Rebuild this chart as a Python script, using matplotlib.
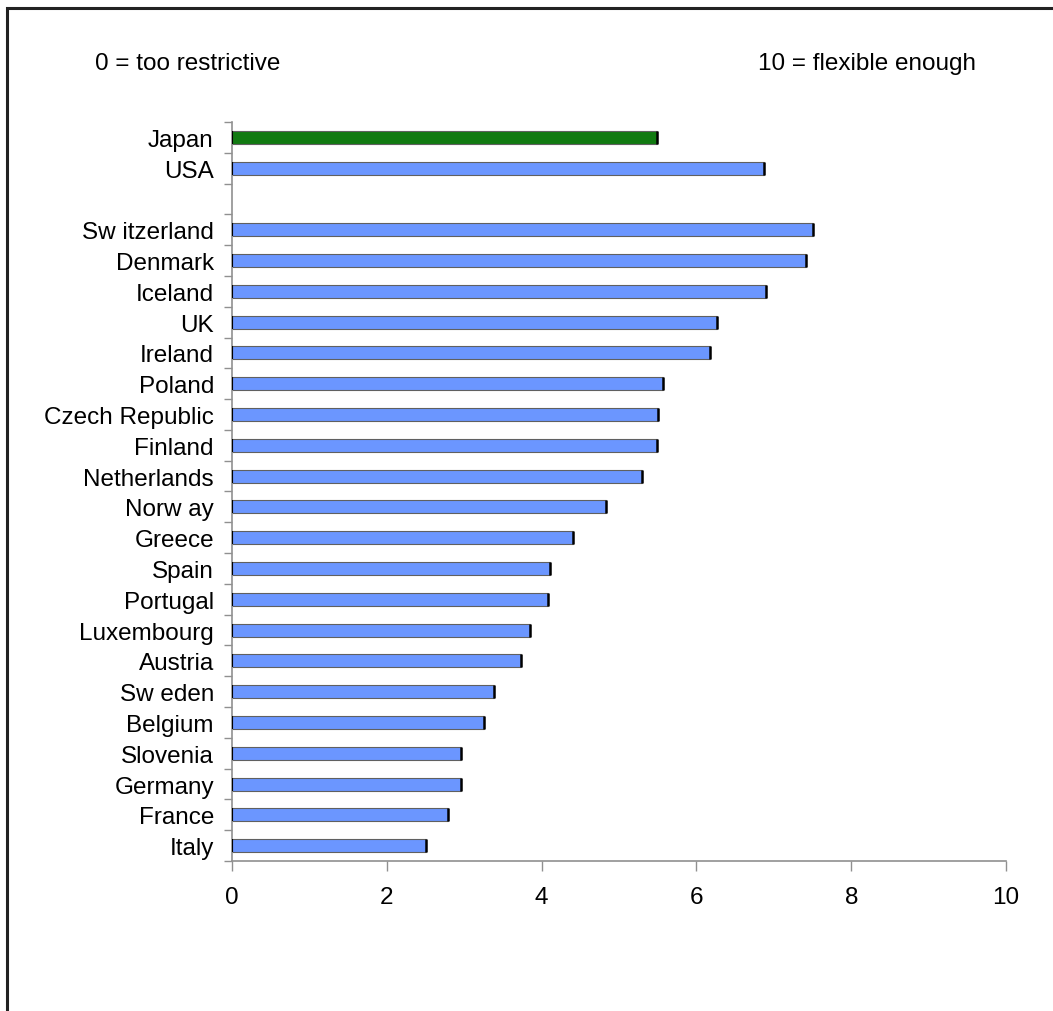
import matplotlib.pyplot as plt
from matplotlib.patches import Rectangle
from matplotlib.ticker import FixedLocator

plt.rcParams['font.family'] = ['Liberation Sans', 'DejaVu Sans']

# 데이터 (위쪽 그룹 + 아래쪽 국가 목록)
top_countries = ['Japan', 'USA']
top_values = [5.49, 6.87]
top_colors = ['#117A11', '#6B96FF']

countries = ['Sw itzerland', 'Denmark', 'Iceland', 'UK', 'Ireland', 'Poland',
             'Czech Republic', 'Finland', 'Netherlands', 'Norw ay', 'Greece',
             'Spain', 'Portugal', 'Luxembourg', 'Austria', 'Sw eden', 'Belgium',
             'Slovenia', 'Germany', 'France', 'Italy']
values = [7.51, 7.42, 6.90, 6.27, 6.18, 5.57, 5.50, 5.49, 5.30, 4.83, 4.41,
          4.11, 4.08, 3.85, 3.73, 3.39, 3.26, 2.96, 2.96, 2.79, 2.51]

# 위치: 위쪽 두 개, 한 칸 비우고 나머지
pos_top = list(range(len(top_countries)))
pos = [len(top_countries) + 1 + i for i in range(len(countries))]
n_slots = pos[-1] + 1

all_pos = pos_top + pos
all_labels = top_countries + countries
all_values = top_values + values
all_colors = top_colors + ['#6B96FF'] * len(countries)

fig = plt.figure(figsize=(10.53, 10.12), dpi=100)
ax = fig.add_axes([0.2203, 0.1482, 0.7351, 0.7303])

h = 0.42
ax.barh(all_pos, all_values, height=h, color=all_colors, edgecolor='#606060', linewidth=0.8, zorder=2)
# 막대 양 끝의 검은 선
ax.vlines(all_values, [p - h / 2 for p in all_pos], [p + h / 2 for p in all_pos], color='black', linewidth=1.8, zorder=3)
ax.vlines([0] * len(all_pos), [p - h / 2 for p in all_pos], [p + h / 2 for p in all_pos], color='black', linewidth=1.5, zorder=3)

ax.set_xlim(0, 10)
ax.set_ylim(n_slots - 0.5, -0.5)
ax.set_xticks([0, 2, 4, 6, 8, 10])
ax.set_yticks(all_pos)
ax.set_yticklabels(all_labels)
ax.yaxis.set_minor_locator(FixedLocator([i - 0.5 for i in range(n_slots + 1)]))

ax.tick_params(axis='y', which='major', length=0, pad=13, labelsize=17.5)
ax.tick_params(axis='y', which='minor', length=6, color='#909090', width=1)
ax.tick_params(axis='x', which='major', length=7, color='#909090', width=1, pad=11, labelsize=17.5)

for s in ['top', 'right']:
    ax.spines[s].set_visible(False)
for s in ['left', 'bottom']:
    ax.spines[s].set_color('#909090')
    ax.spines[s].set_linewidth(1.2)

fig.text(0.090, 0.937, '0 = too restrictive', fontsize=17.5, va='center', ha='left')
fig.text(0.927, 0.937, '10 = flexible enough', fontsize=17.5, va='center', ha='right')

# 바깥 테두리 (오른쪽/아래는 잘린 형태)
fig.patches.append(Rectangle((7 / 1053, -0.1), 1.2, 1.1 - 9 / 1012, transform=fig.transFigure,
                             fill=False, edgecolor='#222222', linewidth=2.2))

fig.savefig('out.png', dpi=100)
